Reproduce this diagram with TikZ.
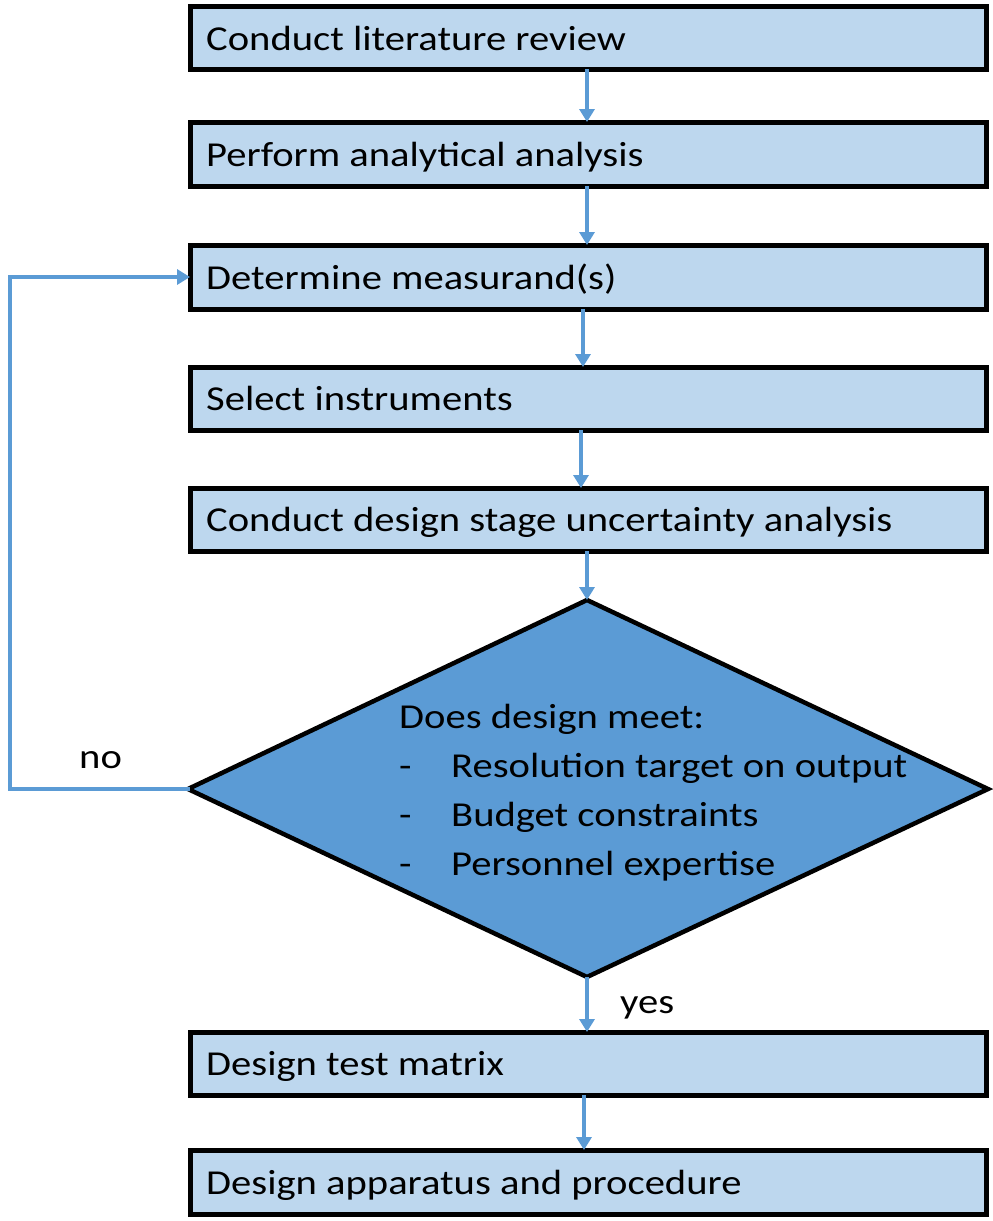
\documentclass[tikz,border=0pt]{standalone}
\usepackage{fontspec}
\setmainfont{Carlito}[FakeStretch=1.16]
\usetikzlibrary{arrows.meta}
\definecolor{boxfill}{HTML}{BDD7EE}
\definecolor{arrowblue}{HTML}{5B9BD5}
\begin{document}
\begin{tikzpicture}[x=1pt,y=-1pt,
  stepbox/.style={draw=black,line width=5pt,fill=boxfill},
  flow/.style={draw=arrowblue,line width=3.2pt,-{Triangle[width=15pt,length=13pt]}},
  lbl/.style={anchor=base west,inner sep=0pt,font=\fontsize{35}{42}\selectfont},
]
\useasboundingbox (0,0) rectangle (993,1221);
% boxes
\path[stepbox] (190,6) rectangle (986,69);
\path[stepbox] (190,122) rectangle (986,186);
\path[stepbox] (190,245) rectangle (986,309);
\path[stepbox] (190,367) rectangle (986,430);
\path[stepbox] (190,488) rectangle (986,551);
\path[stepbox] (190,1032) rectangle (986,1095);
\path[stepbox] (190,1150) rectangle (986,1214);
% coordinates for connectors
\coordinate (b1s) at (587,69);  \coordinate (b2n) at (587,122);
\coordinate (b2s) at (587,186); \coordinate (b3n) at (587,245);
\coordinate (b3s) at (583,309); \coordinate (b4n) at (583,367);
\coordinate (b4s) at (581,430); \coordinate (b5n) at (581,488);
\coordinate (b5s) at (587,551); \coordinate (dn) at (587,600);
\coordinate (ds) at (587,977);  \coordinate (b6n) at (587,1032);
\coordinate (b6s) at (584,1095);\coordinate (b7n) at (584,1150);
\coordinate (dw) at (190,789);  \coordinate (b3w) at (190,277);
% diamond
\draw[line width=4.5pt,fill=arrowblue,line join=miter] (587,600) -- (988,789) -- (587,977) -- (188,789) -- cycle;
% texts
\node[lbl] (t1) at (206,50) {Conduct literature review};
\node[lbl] (t2) at (206,166) {Perform analytical analysis};
\node[lbl] (t3) at (206,289) {Determine measurand(s)};
\node[lbl] (t4) at (206,410) {Select instruments};
\node[lbl] (t5) at (206,531) {Conduct design stage uncertainty analysis};
\node[lbl] (t6) at (206,1075) {Design test matrix};
\node[lbl] (t7) at (206,1194) {Design apparatus and procedure};
\node[lbl] (q0) at (399,728) {Does design meet:};
\node[lbl] (d1) at (399,777) {-};
\node[lbl] (q1) at (451,777) {Resolution target on output};
\node[lbl] (d2) at (399,826) {-};
\node[lbl] (q2) at (451,826) {Budget constraints};
\node[lbl] (d3) at (399,875) {-};
\node[lbl] (q3) at (451,875) {Personnel expertise};
\node[lbl] (no) at (79,768) {no};
\node[lbl] (yes) at (620,1013) {yes};
% connectors
\draw[flow] (b1s) -- (b2n);
\draw[flow] (b2s) -- (b3n);
\draw[flow] (b3s) -- (b4n);
\draw[flow] (b4s) -- (b5n);
\draw[flow] (b5s) -- (dn);
\draw[flow] (ds) -- (b6n);
\draw[flow] (b6s) -- (b7n);
\draw[flow,line width=4pt] (dw) -- (10,789) -- (10,277) -- (b3w);
\end{tikzpicture}
\end{document}
